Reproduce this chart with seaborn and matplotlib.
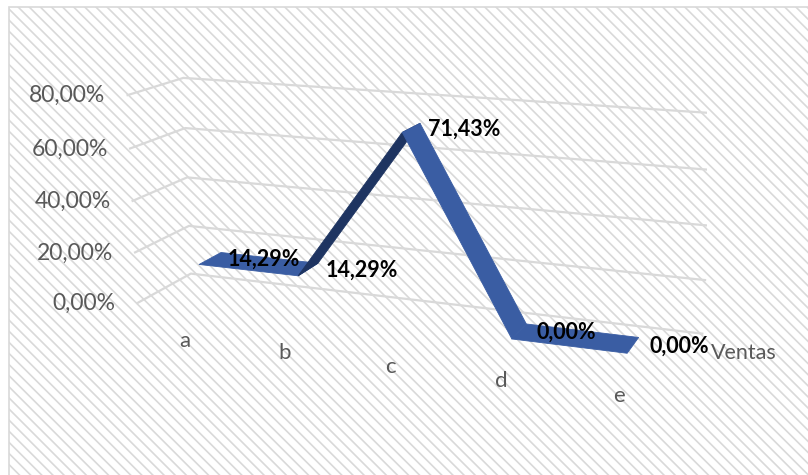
import numpy as np
import matplotlib
matplotlib.use("Agg")
import matplotlib.pyplot as plt
import seaborn as sns
from matplotlib.patches import Rectangle
from mpl_toolkits.mplot3d import proj3d
from mpl_toolkits.mplot3d.art3d import Poly3DCollection

# Sales share per product
categories = ["a", "b", "c", "d", "e"]
ventas = [0.1429, 0.1429, 0.7143, 0.0, 0.0]
series_name = "Ventas"
value_ticks = [0.0, 0.2, 0.4, 0.6, 0.8]


def pct(v):
    return f"{v * 100:.2f}".replace(".", ",") + "%"


sns.set_theme(style="white")
plt.rcParams["font.family"] = ["Lato", "DejaVu Sans"]
plt.rcParams["hatch.linewidth"] = 1.2
plt.rcParams["hatch.color"] = "#f3f3f3"

W, H = 808, 475
fig = plt.figure(figsize=(W / 100, H / 100), dpi=100)
fig.patch.set_facecolor("white")

# chart area: light diagonal pattern with a thin border
frame = Rectangle((9 / W, -0.05), 1.1, (H - 7) / H + 0.05, transform=fig.transFigure,
                  facecolor="white", edgecolor="#d9d9d9", linewidth=1.2,
                  hatch="\\\\\\", zorder=-5)
fig.patches.append(frame)

side = 607
ax = fig.add_axes([99.6 / W, -49.8 / H, side / W, side / H], projection="3d",
                  proj_type="persp", focal_length=0.46, computed_zorder=False)
ax.set_facecolor("none")
ax.set_axis_off()
ax.view_init(elev=14.5, azim=-69)
ax.set_box_aspect((3.5, 0.71, 1.35))

n = len(categories)
x = np.arange(n)
xmin, xmax = -0.5, n - 0.5
ax.set_xlim(xmin, xmax)
ax.set_ylim(0, 1)
ax.set_zlim(value_ticks[0], value_ticks[-1])

# gridlines on the side wall and the back wall
for z in value_ticks:
    ax.plot([xmin, xmin, xmax], [0, 1, 1], [z, z, z], color="#d9d9d9", lw=1.6,
            zorder=1, solid_capstyle="butt")

# ribbon for the series
y0, y1 = 0.29, 0.71
light, dark = "#3a5da3", "#1e3461"
verts, colors = [], []
for i in range(n - 1):
    verts.append([(x[i], y0, ventas[i]), (x[i + 1], y0, ventas[i + 1]),
                  (x[i + 1], y1, ventas[i + 1]), (x[i], y1, ventas[i])])
    colors.append(dark if ventas[i + 1] > ventas[i] else light)
ribbon = Poly3DCollection(verts, facecolors=colors, edgecolors=colors, linewidths=0.6)
ribbon.set_zorder(2)
ax.add_collection3d(ribbon)

# project 3D anchor points to pixel positions for the labels
fig.canvas.draw()
M = ax.get_proj()


def to_fig(xs, ys, zs, dx=0, dy=0):
    px, py, _ = proj3d.proj_transform(np.atleast_1d(xs), np.atleast_1d(ys),
                                      np.atleast_1d(zs), M)
    d = ax.transData.transform(np.column_stack([px, py]))
    return (d[:, 0] + dx) / W, (d[:, 1] + dy) / H


gray = "#595959"

# value axis labels
fx, fy = to_fig(np.full(len(value_ticks), xmin), np.zeros(len(value_ticks)),
                value_ticks, dx=-21)
for X, Y, z in zip(fx, fy, value_ticks):
    fig.text(X, Y, pct(z), ha="right", va="center", fontsize=16.5, color=gray)

# category labels
fx, fy = to_fig(x, np.zeros(n), np.zeros(n), dy=-31)
for X, Y, c in zip(fx, fy, categories):
    fig.text(X, Y, c, ha="center", va="center", fontsize=16, color=gray)

# series name on the depth axis
fx, fy = to_fig(xmax, 0.5, 0.0, dx=19, dy=-1)
fig.text(fx[0], fy[0], series_name, ha="left", va="center", fontsize=15.5, color=gray)

# data labels
fx, fy = to_fig(x, np.full(n, 0.5), ventas, dx=17, dy=-1)
for X, Y, v in zip(fx, fy, ventas):
    fig.text(X, Y, pct(v), ha="left", va="center", fontsize=15.5,
             fontweight="bold", color="black")

fig.savefig("out.png", dpi=100)
